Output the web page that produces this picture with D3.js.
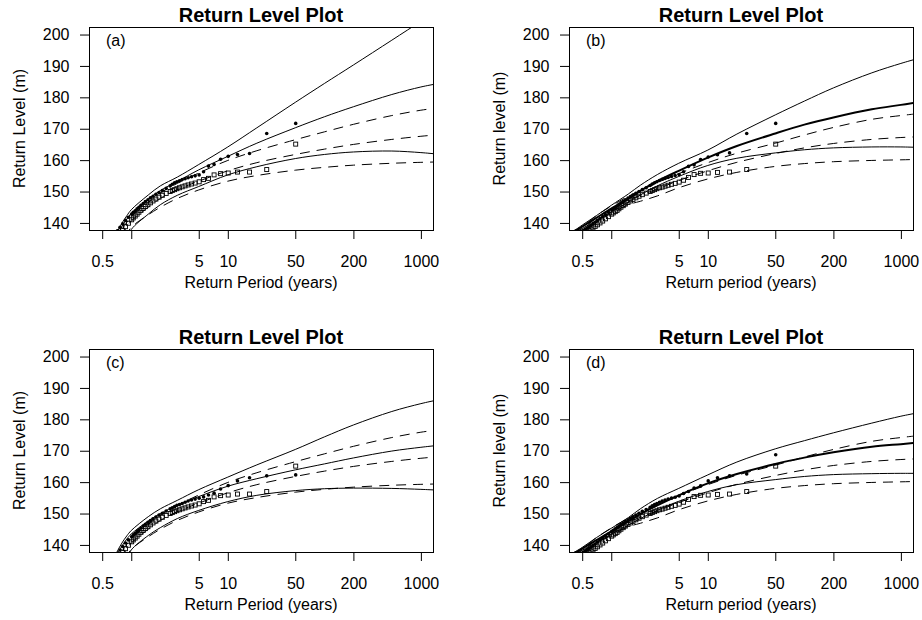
<!DOCTYPE html>
<html lang="en">
<head>
    <meta charset="UTF-8">
    <title>Return Level Plot</title>
    <script src="https://cdn.jsdelivr.net/npm/d3@7"></script>
    <style>
        body {
            margin: 0;
            background: #fff;
        }
        svg text {
            font-family: "Liberation Sans", Arial, Helvetica, sans-serif;
            fill: #000;
        }
        .axis path, .axis line {
            stroke: #000;
        }
    </style>
</head>
<body>
<div id="chart"></div>
<script type="text/javascript">
    // axis ticks
    var xTicks = [0.5, 1, 5, 10, 50, 200, 1000];
    var xTickLabels = ["0.5", "", "5", "10", "50", "200", "1000"];
    var yTicks = [140, 150, 160, 170, 180, 190, 200];

    var panelLetters = ["(a)", "(b)", "(c)", "(d)"];
    var yTitles = ["Return Level (m)", "Return level (m)", "Return Level (m)", "Return level (m)"];
    var xTitles = ["Return Period (years)", "Return period (years)", "Return Period (years)", "Return period (years)"];

    // plotting positions of the ranked observations (years)
    var rankPeriods = [50.5, 25.3, 16.8, 12.6, 10.1, 8.42, 7.21, 6.31, 5.61, 5.05, 4.59, 4.21, 3.88, 3.61, 3.37, 3.16,
        2.97, 2.81, 2.66, 2.53, 2.30, 2.10, 1.94, 1.80, 1.68, 1.58, 1.49, 1.40, 1.33, 1.26, 1.20, 1.15, 1.10, 1.05,
        1.01, 0.935, 0.871, 0.815, 0.765, 0.721, 0.682, 0.647, 0.616, 0.587, 0.561, 0.537, 0.515];

    // observed levels, filled dots
    var dotsA = [171.7, 168.5, 162.1, 161.8, 161.2, 160.3, 158.6, 158.1, 156.3, 155.3, 155.0, 154.7, 154.4, 154.1,
        153.8, 153.4, 153.1, 152.8, 152.3, 151.8, 151.0, 150.3, 149.7, 149.1, 148.5, 148.0, 147.4, 146.8, 146.2,
        145.6, 145.0, 144.5, 143.9, 143.4, 142.8, 141.8, 140.8, 139.7, 138.6, 137.5, 136.5, 135.5, 134.5, 133.5,
        132.5, 131.5, 130.5];
    var dotsB = [171.7, 168.5, 162.3, 161.7, 161.0, 160.2, 158.5, 158.0, 156.3, 155.4, 155.1, 154.8, 154.5, 154.2,
        153.9, 153.5, 153.1, 152.8, 152.4, 151.9, 151.2, 150.6, 150.0, 149.4, 148.9, 148.4, 147.9, 147.4, 146.9,
        146.4, 145.9, 145.4, 145.0, 144.6, 144.2, 143.4, 142.7, 142.0, 141.4, 140.8, 140.2, 139.7, 139.2, 138.8,
        138.4, 138.0, 137.6];
    var dotsC = [162.3, 162.0, 161.4, 160.4, 158.9, 157.8, 156.5, 155.9, 155.3, 154.9, 154.6, 154.3, 154.0, 153.6,
        153.2, 152.9, 152.6, 152.2, 151.8, 151.5, 150.8, 150.1, 149.5, 148.9, 148.3, 147.8, 147.2, 146.6, 146.0,
        145.4, 144.8, 144.3, 143.7, 143.2, 142.6, 141.6, 140.6, 139.5, 138.4, 137.3, 136.3, 135.3, 134.3, 133.3,
        132.3, 131.3, 130.3];
    var dotsD = [168.7, 162.6, 162.0, 161.4, 160.4, 158.8, 158.1, 157.0, 156.4, 155.6, 155.2, 154.9, 154.6, 154.3,
        154.0, 153.6, 153.2, 152.9, 152.5, 152.0, 151.3, 150.7, 150.1, 149.5, 149.0, 148.5, 148.0, 147.5, 147.0,
        146.5, 146.0, 145.5, 145.1, 144.7, 144.3, 143.5, 142.8, 142.1, 141.5, 140.9, 140.3, 139.8, 139.3, 138.9,
        138.5, 138.1, 137.7];

    // observed levels, open squares
    var squaresLeft = [165.1, 157.0, 156.2, 156.2, 155.9, 155.7, 155.3, 154.2, 153.8, 153.1, 152.7, 152.4, 152.1,
        151.8, 151.5, 151.2, 150.9, 150.6, 150.3, 150.0, 149.4, 148.8, 148.2, 147.6, 147.0, 146.4, 145.8, 145.2,
        144.6, 144.0, 143.4, 142.8, 142.2, 141.6, 141.0, 139.9, 138.8, 137.7, 136.6, 135.5, 134.5, 133.5, 132.5,
        131.5, 130.5, 129.5, 128.5];
    var squaresRight = [165.1, 157.0, 156.2, 156.1, 155.9, 155.8, 155.4, 154.5, 153.6, 153.0, 152.6, 152.3, 152.0,
        151.7, 151.4, 151.2, 150.9, 150.6, 150.3, 150.0, 149.5, 149.0, 148.5, 148.0, 147.5, 147.0, 146.5, 146.0,
        145.5, 145.0, 144.5, 144.0, 143.6, 143.2, 142.8, 142.0, 141.3, 140.6, 140.0, 139.4, 138.9, 138.4, 138.0,
        137.6, 137.2, 136.9, 136.6];

    // return level curves
    var periodsLeft = [0.6, 0.7, 0.8, 0.9, 1, 1.5, 2, 3, 5, 10, 20, 50, 100, 200, 500, 1000, 1400];
    var periodsRight = [0.4, 0.5, 0.7, 1, 1.5, 2, 3, 5, 10, 20, 50, 100, 200, 500, 1000, 1400];

    var upperA = [131.0, 136.6, 139.9, 142.3, 144.2, 148.9, 151.8, 154.6, 158.6, 164.2, 170.3, 178.4, 184.4, 190.3, 198.2, 204.2, 207.1];
    var estA = [130.0, 135.5, 138.8, 141.2, 143.0, 147.6, 150.3, 153.2, 156.9, 161.2, 165.4, 170.3, 173.8, 177.0, 180.9, 183.3, 184.2];
    var lowerA = [118.0, 124.0, 129.5, 134.5, 137.9, 142.8, 145.8, 148.8, 151.6, 155.3, 157.9, 160.5, 161.8, 162.6, 162.9, 162.4, 162.0];

    var upperC = [132.0, 137.3, 140.6, 142.9, 144.6, 149.0, 151.5, 154.2, 157.6, 161.6, 165.5, 170.4, 174.4, 178.2, 182.5, 185.0, 186.0];
    var estC = [131.0, 136.4, 139.6, 141.9, 143.5, 147.6, 150.0, 152.6, 155.4, 158.7, 161.1, 163.9, 165.8, 167.7, 169.9, 171.1, 171.6];
    var lowerC = [118.0, 124.0, 129.5, 135.5, 138.4, 143.0, 145.5, 148.4, 151.0, 153.8, 155.8, 157.3, 157.9, 158.1, 158.0, 157.7, 157.5];

    var upperDashLeft = [128.0, 134.0, 137.8, 140.2, 142.0, 146.5, 149.5, 152.6, 155.9, 159.9, 163.0, 166.5, 169.0, 171.4, 174.2, 175.9, 176.5];
    var estDashLeft = [125.0, 132.0, 136.0, 138.8, 140.6, 145.0, 147.8, 150.6, 153.3, 156.6, 159.2, 161.8, 163.5, 165.0, 166.6, 167.6, 168.0];
    var lowerDashLeft = [120.0, 128.0, 133.0, 136.3, 138.6, 142.6, 145.0, 147.8, 150.5, 153.3, 155.1, 156.8, 157.7, 158.4, 159.0, 159.3, 159.4];

    var upperB = [137.2, 139.3, 142.3, 145.6, 149.2, 152.0, 155.4, 159.0, 163.2, 168.3, 174.4, 178.8, 183.0, 187.8, 190.8, 192.1];
    var estB = [137.0, 138.8, 141.6, 144.6, 147.7, 150.2, 153.3, 156.6, 160.8, 164.5, 168.5, 171.3, 173.6, 176.2, 177.6, 178.3];
    var lowerB = [136.4, 138.2, 140.8, 143.5, 146.6, 148.9, 151.8, 154.8, 158.3, 160.6, 162.3, 163.3, 163.9, 164.2, 164.2, 164.1];

    var upperD = [137.4, 139.2, 142.3, 145.3, 148.7, 151.5, 154.8, 158.0, 162.3, 166.4, 170.6, 173.2, 175.7, 178.8, 181.0, 181.9];
    var estD = [137.0, 138.8, 141.5, 144.3, 147.5, 149.8, 152.6, 155.8, 159.6, 162.6, 165.8, 167.8, 169.5, 171.3, 172.1, 172.5];
    var lowerD = [136.5, 138.3, 140.8, 143.4, 146.3, 148.4, 151.0, 153.9, 157.0, 159.2, 160.8, 161.8, 162.4, 162.7, 162.8, 162.8];

    var upperDashRight = [137.5, 138.8, 142.3, 145.4, 148.5, 150.3, 152.8, 155.7, 159.2, 162.2, 165.4, 168.0, 170.4, 173.0, 174.2, 174.7];
    var estDashRight = [137.0, 138.2, 141.5, 144.3, 147.2, 148.8, 150.8, 153.5, 156.6, 159.3, 162.1, 163.9, 165.3, 166.6, 167.2, 167.4];
    var lowerDashRight = [136.5, 137.6, 140.5, 143.0, 145.8, 146.9, 148.6, 151.2, 154.0, 156.1, 158.0, 158.9, 159.5, 159.9, 160.1, 160.2];

    var svgw = 922;
    var svgh = 620;
    var boxw = 344;
    var boxh = 203;

    var panels = [
        {left: 89, top: 27, periods: periodsLeft, dots: dotsA, squares: squaresLeft,
            solid: [upperA, estA, lowerA], dashed: [upperDashLeft, estDashLeft, lowerDashLeft], boldEst: false},
        {left: 569, top: 27, periods: periodsRight, dots: dotsB, squares: squaresRight,
            solid: [upperB, estB, lowerB], dashed: [upperDashRight, estDashRight, lowerDashRight], boldEst: true},
        {left: 89, top: 349, periods: periodsLeft, dots: dotsC, squares: squaresLeft,
            solid: [upperC, estC, lowerC], dashed: [upperDashLeft, estDashLeft, lowerDashLeft], boldEst: false},
        {left: 569, top: 349, periods: periodsRight, dots: dotsD, squares: squaresRight,
            solid: [upperD, estD, lowerD], dashed: [upperDashRight, estDashRight, lowerDashRight], boldEst: true}
    ];

    var svg = d3.select("#chart")
        .append('svg')
        .attr('width', svgw)
        .attr('height', svgh);

    var x_scale = d3.scaleLog()
        .domain([0.365, 1335])
        .range([0, boxw]);

    var y_scale = d3.scaleLinear()
        .domain([137.75, 202.4])
        .range([boxh, 0]);

    var line = d3.line()
        .x(function (d) { return x_scale(d[0]); })
        .y(function (d) { return y_scale(d[1]); })
        .curve(d3.curveCatmullRom.alpha(0.5));

    panels.forEach(function (p, k) {
        var g = svg.append('g')
            .attr('transform', 'translate(' + p.left + ',' + p.top + ')');

        g.append('clipPath')
            .attr('id', 'clip' + k)
            .append('rect')
            .attr('width', boxw)
            .attr('height', boxh);

        var plot = g.append('g').attr('clip-path', 'url(#clip' + k + ')');

        // empirical points
        var dotData = rankPeriods.map(function (t, i) { return [t, p.dots[i]]; });
        var sqData = rankPeriods.map(function (t, i) { return [t, p.squares[i]]; });

        plot.selectAll('rect.sq')
            .data(sqData)
            .enter()
            .append('rect')
            .attr('class', 'sq')
            .attr('x', function (d) { return x_scale(d[0]) - 2; })
            .attr('y', function (d) { return y_scale(d[1]) - 2; })
            .attr('width', 4)
            .attr('height', 4)
            .attr('fill', 'none')
            .attr('stroke', '#000')
            .attr('stroke-width', 0.9);

        plot.selectAll('circle')
            .data(dotData)
            .enter()
            .append('circle')
            .attr('cx', function (d) { return x_scale(d[0]); })
            .attr('cy', function (d) { return y_scale(d[1]); })
            .attr('r', 1.8)
            .attr('fill', '#000');

        // fitted curves
        p.solid.forEach(function (vals, j) {
            plot.append('path')
                .datum(p.periods.map(function (t, i) { return [t, vals[i]]; }))
                .attr('d', line)
                .attr('fill', 'none')
                .attr('stroke', '#000')
                .attr('stroke-width', (j === 1 && p.boldEst) ? 2 : 1);
        });
        p.dashed.forEach(function (vals) {
            plot.append('path')
                .datum(p.periods.map(function (t, i) { return [t, vals[i]]; }))
                .attr('d', line)
                .attr('fill', 'none')
                .attr('stroke', '#000')
                .attr('stroke-width', 1)
                .attr('stroke-dasharray', '10,7');
        });

        // box
        g.append('rect')
            .attr('x', 0.5)
            .attr('y', 0.5)
            .attr('width', boxw)
            .attr('height', boxh)
            .attr('fill', 'none')
            .attr('stroke', '#000')
            .attr('stroke-width', 1);

        // axes
        var x_axis = d3.axisBottom(x_scale)
            .tickValues(xTicks)
            .tickFormat(function (d, i) { return xTickLabels[i]; })
            .tickSize(9)
            .tickSizeOuter(0)
            .tickPadding(16.5);
        g.append('g')
            .attr('class', 'axis')
            .attr('transform', 'translate(0,' + boxh + ')')
            .call(x_axis)
            .call(function (a) { a.select('.domain').remove(); })
            .selectAll('text')
            .attr('font-size', 16);

        var y_axis = d3.axisLeft(y_scale)
            .tickValues(yTicks)
            .tickSize(9)
            .tickSizeOuter(0)
            .tickPadding(10.5);
        g.append('g')
            .attr('class', 'axis')
            .call(y_axis)
            .call(function (a) { a.select('.domain').remove(); })
            .selectAll('text')
            .attr('font-size', 16);

        // titles
        g.append('text')
            .text('Return Level Plot')
            .attr('x', boxw / 2)
            .attr('y', -5.3)
            .attr('text-anchor', 'middle')
            .attr('font-size', 20)
            .attr('font-weight', 'bold');

        g.append('text')
            .text(xTitles[k])
            .attr('x', boxw / 2)
            .attr('y', 261)
            .attr('text-anchor', 'middle')
            .attr('font-size', 16);

        g.append('text')
            .text(yTitles[k])
            .attr('transform', 'translate(-64,' + (boxh / 2) + ') rotate(-90)')
            .attr('text-anchor', 'middle')
            .attr('font-size', 16);

        g.append('text')
            .text(panelLetters[k])
            .attr('x', 17)
            .attr('y', 18.5)
            .attr('font-size', 16);
    });
</script>
</body>
</html>
